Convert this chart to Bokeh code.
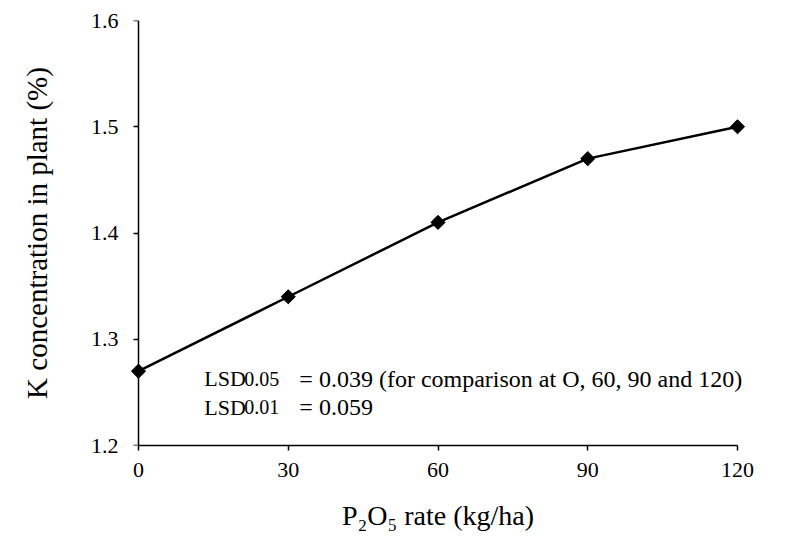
import math
from bokeh.plotting import figure
from bokeh.models import Range1d, Label, FixedTicker, LinearAxis
from bokeh.embed import file_html
from bokeh.resources import INLINE

# ---- data ----
p2o5_rate = [0, 30, 60, 90, 120]
k_conc = [1.27, 1.34, 1.41, 1.47, 1.50]
x_ticks = [0, 30, 60, 90, 120]
y_ticks = [1.2, 1.3, 1.4, 1.5, 1.6]
x_title = "P\u2082O\u2085 rate (kg/ha)"
y_title = "K concentration in plant (%)"
lsd_lines = [("0.05", "= 0.039 (for comparison at O, 60, 90 and 120)"),
             ("0.01", "= 0.059")]

FONT = "Liberation Serif"

p = figure(width=807, height=547,
           x_range=Range1d(-3, 123), y_range=Range1d(1.2, 1.6),
           output_backend="svg", toolbar_location=None,
           min_border_left=123, min_border_right=55,
           min_border_top=20, min_border_bottom=102)
p.outline_line_color = None
p.xgrid.visible = False
p.ygrid.visible = False
p.background_fill_color = "white"
p.border_fill_color = "white"


def style(ax):
    ax.axis_line_color = "black"
    ax.axis_line_width = 1.5
    ax.major_tick_line_color = "black"
    ax.major_tick_line_width = 1.5
    ax.major_tick_out = 5
    ax.major_tick_in = 0
    ax.minor_tick_line_color = None
    ax.major_label_text_font = FONT
    ax.major_label_text_font_size = "22px"
    ax.major_label_text_color = "black"
    ax.axis_label_text_font = FONT
    ax.axis_label_text_font_style = "normal"
    ax.axis_label_text_color = "black"


style(p.xaxis[0])
style(p.yaxis[0])

p.xaxis.ticker = FixedTicker(ticks=x_ticks)
p.xaxis.bounds = (0, 120)
p.xaxis.major_label_standoff = 12
p.xaxis.axis_label = x_title
p.xaxis.axis_label_text_font_size = "28px"
p.xaxis.axis_label_standoff = 20

# y axis line and ticks at x = 0
p.yaxis.ticker = FixedTicker(ticks=y_ticks)
p.yaxis.fixed_location = 0
p.yaxis.bounds = (1.2, 1.6)
p.yaxis.major_label_text_color = None

# y tick labels and title
ylab = LinearAxis(ticker=FixedTicker(ticks=y_ticks))
style(ylab)
ylab.axis_line_color = None
ylab.major_tick_line_color = None
ylab.major_tick_out = 0
ylab.major_label_standoff = 5
ylab.axis_label = y_title
ylab.axis_label_text_font_size = "29px"
ylab.axis_label_standoff = 35
p.add_layout(ylab, "left")

p.line(p2o5_rate, k_conc, line_color="black", line_width=2.5)
p.scatter(p2o5_rate, k_conc, marker="square", size=10, angle=math.pi / 4,
          fill_color="black", line_color="black")

# LSD annotation
x0 = 13.2
baselines = [1.263, 1.236]
for (sub, rest), yb in zip(lsd_lines, baselines):
    p.add_layout(Label(x=x0, y=yb, text="LSD", text_font=FONT,
                       text_font_size="22px", text_baseline="alphabetic",
                       text_color="black"))
    p.add_layout(Label(x=x0, y=yb, x_offset=40, text=sub, text_font=FONT,
                       text_font_size="20px", text_baseline="alphabetic",
                       text_color="black"))
    p.add_layout(Label(x=x0, y=yb, x_offset=95, text=rest, text_font=FONT,
                       text_font_size="24px", text_baseline="alphabetic",
                       text_color="black"))

open("out.html", "w").write(file_html(p, INLINE))
